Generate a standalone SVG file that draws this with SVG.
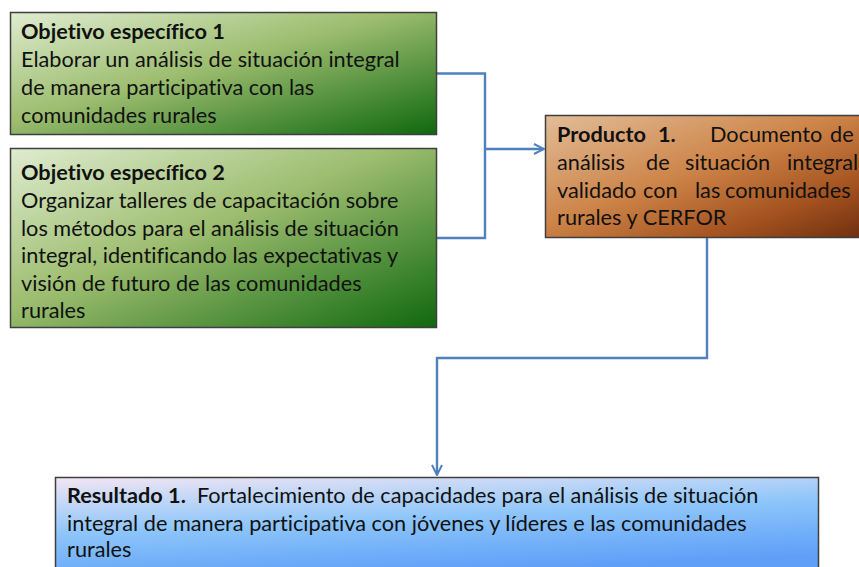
<svg xmlns="http://www.w3.org/2000/svg" width="859" height="567" viewBox="0 0 859 567">
  <defs>
    <linearGradient id="gGreen" x1="0" y1="0" x2="1" y2="1">
      <stop offset="0" stop-color="#dfecd0"/>
      <stop offset="0.45" stop-color="#9dbd6f"/>
      <stop offset="1" stop-color="#0f680f"/>
    </linearGradient>
    <linearGradient id="gBrown" x1="0" y1="0" x2="1" y2="1">
      <stop offset="0" stop-color="#e2bd98"/>
      <stop offset="0.45" stop-color="#cd8448"/>
      <stop offset="0.75" stop-color="#a4521f"/>
      <stop offset="1" stop-color="#6a2c0e"/>
    </linearGradient>
    <linearGradient id="gBlue" x1="0" y1="0" x2="0.35" y2="1">
      <stop offset="0" stop-color="#f3e6f3"/>
      <stop offset="0.5" stop-color="#8ec6fa"/>
      <stop offset="1" stop-color="#5f9ff8"/>
    </linearGradient>
    <marker id="arrow" viewBox="0 0 12 12" refX="11" refY="6" markerWidth="12" markerHeight="12" markerUnits="userSpaceOnUse" orient="auto">
      <path d="M1,1 L11,6 L1,11" fill="none" stroke="#4f81bd" stroke-width="2"/>
    </marker>
  </defs>
  <style>
    .box { stroke: #3f3f3f; stroke-width: 1.5; }
    .t { font-family: Lato, "Liberation Sans", sans-serif; font-size: 21.7px; fill: #111; font-variant-ligatures: none; font-feature-settings: "liga" 0; }
    .b { font-weight: bold; }
    .conn { fill: none; stroke: #4f81bd; stroke-width: 2.4; }
  </style>
  <rect width="859" height="567" fill="#ffffff"/>

  <g id="connectors">
    <polyline class="conn" points="436,73.5 485,73.5 485,238 436,238"/>
    <line class="conn" x1="485" y1="149" x2="544" y2="149" marker-end="url(#arrow)"/>
    <polyline class="conn" points="707,238 707,358 437,358 437,475" marker-end="url(#arrow)"/>
  </g>

  <g id="objetivo1">
    <rect class="box" x="10.5" y="12.5" width="426" height="122" fill="url(#gGreen)"/>
    <text class="t b" x="21" y="39">Objetivo específico 1</text>
    <text class="t" x="21" y="67">Elaborar un análisis de situación integral</text>
    <text class="t" x="21" y="95">de manera participativa con las</text>
    <text class="t" x="21" y="123">comunidades rurales</text>
  </g>

  <g id="objetivo2">
    <rect class="box" x="10.5" y="148.5" width="426" height="179" fill="url(#gGreen)"/>
    <text class="t b" x="21" y="180">Objetivo específico 2</text>
    <text class="t" x="21" y="208">Organizar talleres de capacitación sobre</text>
    <text class="t" x="21" y="235.5">los métodos para el análisis de situación</text>
    <text class="t" x="21" y="263">integral, identificando las expectativas y</text>
    <text class="t" x="21" y="290.5">visión de futuro de las comunidades</text>
    <text class="t" x="21" y="318">rurales</text>
  </g>

  <g id="producto1">
    <rect class="box" x="545.5" y="115.5" width="330" height="122" fill="url(#gBrown)"/>
    <text class="t b" x="557" y="142">Producto</text>
    <text class="t b" x="658" y="142">1.</text>
    <text class="t" x="710" y="142">Documento</text>
    <text class="t" x="830" y="142">de</text>
    <text class="t" x="557" y="170">análisis</text>
    <text class="t" x="646" y="170">de</text>
    <text class="t" x="685" y="170">situación</text>
    <text class="t" x="787" y="170">integral</text>
    <text class="t" x="557" y="198">validado</text>
    <text class="t" x="643" y="198">con</text>
    <text class="t" x="695" y="198">las</text>
    <text class="t" x="725" y="198">comunidades</text>
    <text class="t" x="557" y="225">rurales y CERFOR</text>
  </g>

  <g id="resultado1">
    <rect class="box" x="55.5" y="477.5" width="763" height="100" fill="url(#gBlue)"/>
    <text class="t" x="67" y="503"><tspan class="b">Resultado 1.</tspan><tspan x="197">Fortalecimiento de capacidades para el análisis de situación</tspan></text>
    <text class="t" x="67" y="531">integral de manera participativa con jóvenes y líderes e las comunidades</text>
    <text class="t" x="67" y="557">rurales</text>
  </g>
</svg>
